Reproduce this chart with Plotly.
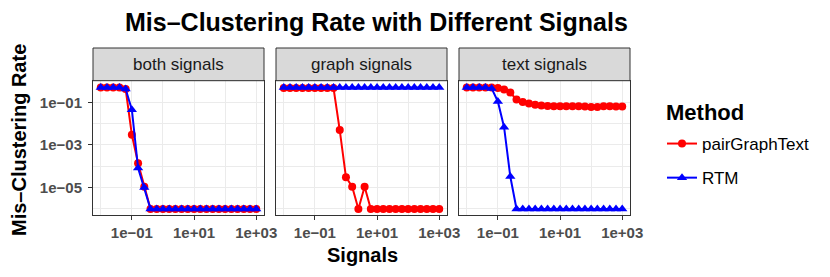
import plotly.graph_objects as go

# ---------------- data ----------------
signals = [0.01, 0.01585, 0.02512, 0.03981, 0.0631, 0.1, 0.1585, 0.2512, 0.3981, 0.631,
           1.0, 1.585, 2.512, 3.981, 6.31, 10.0, 15.85, 25.12, 39.81, 63.1,
           100.0, 158.5, 251.2, 398.1, 631.0, 1000.0]

panels = ["both signals", "graph signals", "text signals"]
methods = ["pairGraphText", "RTM"]

both_pair = [0.5, 0.5, 0.5, 0.5, 0.42, 0.003, 1.4e-4, 1.1e-5] + [1e-6] * 18
both_rtm = [0.5, 0.5, 0.5, 0.5, 0.42, 0.045, 8.3e-5, 1e-5] + [1e-6] * 18

graph_pair = [0.47] * 9 + [0.005, 3.1e-5, 1.1e-5, 1e-6, 1.1e-5] + [1e-6] * 12
graph_rtm = [0.5] * 26

text_pair = [0.5, 0.5, 0.5, 0.5, 0.49, 0.47, 0.4, 0.29, 0.135, 0.104, 0.089, 0.077,
             0.071, 0.068, 0.066, 0.065, 0.065, 0.065, 0.065, 0.063, 0.06, 0.061,
             0.065, 0.065, 0.063, 0.063]
text_rtm = [0.5, 0.5, 0.5, 0.5, 0.45, 0.11, 0.0068, 3.3e-5] + [1e-6] * 18

series = {
    "both signals": (both_pair, both_rtm),
    "graph signals": (graph_pair, graph_rtm),
    "text signals": (text_pair, text_rtm),
}

x_tickvals = [0.1, 10, 1000]
x_ticktext = ["1e\u221201", "1e+01", "1e+03"]
x_minor = [0.01, 1, 100]
y_tickvals = [0.1, 0.001, 1e-5]
y_ticktext = ["1e\u221201", "1e\u221203", "1e\u221205"]
y_minor = [1, 0.01, 1e-4, 1e-6]

colors = {"pairGraphText": "#FF0000", "RTM": "#0000FF"}
symbols = {"pairGraphText": "circle", "RTM": "triangle-up"}

# ---------------- layout geometry (page px; the page body has an 8px margin) ----------------
OFF = 8
W, H = 830 - OFF, 277 - OFF
P_LEFT, P_RIGHT, P_TOP, P_BOTTOM = 93, 630, 48, 215
ML, MT = P_LEFT - OFF, P_TOP - OFF
MR = W - (P_RIGHT - OFF)
MB = H - (P_BOTTOM - OFF)
PW = W - ML - MR
PH = H - MT - MB
panel_top_frac = (P_BOTTOM - 80.7) / PH
pw = 171 / PW
gap = 12 / PW
domains = [[0, pw], [pw + gap, 2 * pw + gap], [2 * pw + 2 * gap, 1]]


def px_x(px):
    return (px - P_LEFT) / PW


def px_y(py):
    return (P_BOTTOM - py) / PH


FONT = "Liberation Sans, Arial, sans-serif"
fig = go.Figure()

for i, p in enumerate(panels):
    sfx = "" if i == 0 else str(i + 1)
    for m, vals in zip(methods, series[p]):
        fig.add_trace(go.Scatter(
            x=signals, y=vals, mode="lines+markers", name=m,
            legendgroup=m, showlegend=(i == 0),
            line=dict(color=colors[m], width=2),
            marker=dict(color=colors[m], symbol=symbols[m], size=8 if m == "pairGraphText" else 9),
            xaxis="x" + sfx, yaxis="y" + sfx,
        ))

axis_common = dict(
    type="log", showline=True, mirror=True, linecolor="#333333", linewidth=1,
    gridcolor="#EBEBEB", gridwidth=1.2, zeroline=False, automargin=False,
    ticks="outside", ticklen=4, tickcolor="#333333", tickwidth=1,
    tickfont=dict(family=FONT, size=15, color="#4D4D4D", weight="bold"),
)

for i in range(3):
    sfx = "" if i == 0 else str(i + 1)
    fig.update_layout(**{
        "xaxis" + sfx: dict(
            axis_common, domain=domains[i], range=[-2.25, 3.25],
            tickmode="array", tickvals=x_tickvals, ticktext=x_ticktext,
            minor=dict(tickvals=x_minor, showgrid=True, gridcolor="#EBEBEB", gridwidth=0.6, ticks=""),
            anchor="y" + sfx,
        ),
        "yaxis" + sfx: dict(
            axis_common, domain=[0, panel_top_frac], range=[-6.285, 0.015],
            tickmode="array", tickvals=y_tickvals, ticktext=y_ticktext,
            showticklabels=(i == 0), ticks="outside" if i == 0 else "",
            ticklabelstandoff=3,
            minor=dict(tickvals=y_minor, showgrid=True, gridcolor="#EBEBEB", gridwidth=0.6, ticks=""),
            anchor="x" + sfx,
        ),
    })
    # strip
    fig.add_shape(type="rect", xref="paper", yref="paper",
                  x0=domains[i][0], x1=domains[i][1], y0=panel_top_frac, y1=1,
                  fillcolor="#D9D9D9", line=dict(color="#333333", width=1), layer="above")
    fig.add_annotation(xref="paper", yref="paper", x=(domains[i][0] + domains[i][1]) / 2,
                       y=(panel_top_frac + 1) / 2, text=panels[i], showarrow=False,
                       xanchor="center", yanchor="middle",
                       font=dict(family=FONT, size=17, color="#1A1A1A"))

fig.add_annotation(xref="paper", yref="paper", x=px_x(376), y=px_y(22),
                   text="<b>Mis\u2013Clustering Rate with Different Signals</b>", showarrow=False,
                   xanchor="center", yanchor="middle", font=dict(family=FONT, size=25, color="black"))
fig.add_annotation(xref="paper", yref="paper", x=px_x(362), y=px_y(255),
                   text="<b>Signals</b>", showarrow=False,
                   xanchor="center", yanchor="middle", font=dict(family=FONT, size=20, color="black"))
fig.add_annotation(xref="paper", yref="paper", x=px_x(19), y=px_y(140),
                   text="<b>Mis\u2013Clustering Rate</b>", showarrow=False, textangle=-90,
                   xanchor="center", yanchor="middle", font=dict(family=FONT, size=20, color="black"))
# legend title
fig.add_annotation(xref="paper", yref="paper", x=px_x(664), y=px_y(112),
                   text="<b>Method</b>", showarrow=False,
                   xanchor="left", yanchor="middle", font=dict(family=FONT, size=22, color="black"))

fig.update_layout(
    width=W, height=H, margin=dict(l=ML, r=MR, t=MT, b=MB, pad=0, autoexpand=False),
    paper_bgcolor="white", plot_bgcolor="white",
    font=dict(family=FONT),
    legend=dict(
        x=px_x(662), y=px_y(126), xanchor="left", yanchor="top",
        font=dict(family=FONT, size=17, color="black"),
        tracegroupgap=9, bgcolor="rgba(0,0,0,0)",
    ),
)

fig.write_html("out.html")
